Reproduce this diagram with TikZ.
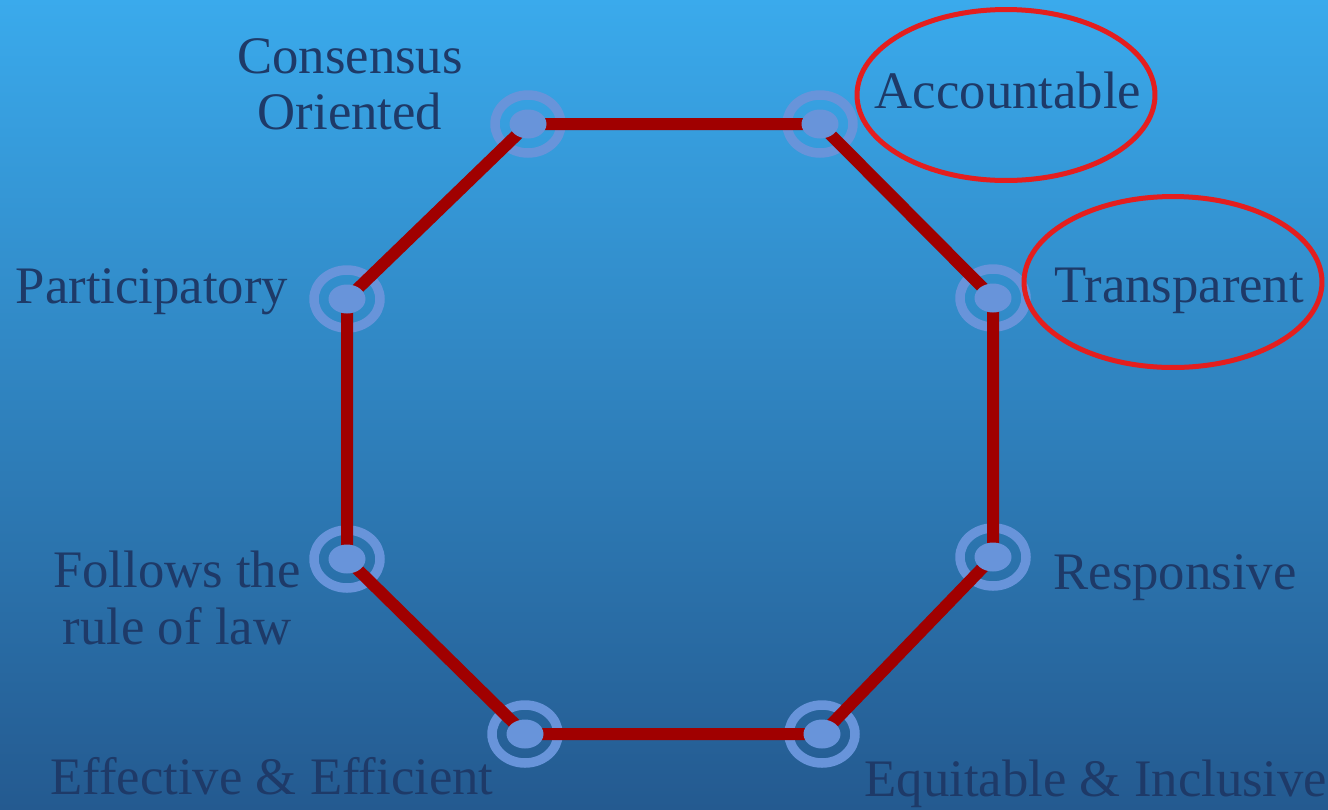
\documentclass[tikz,border=0pt]{standalone}
\usepackage{fontspec}
\setmainfont{Liberation Serif}
\usetikzlibrary{shapes.geometric}
\definecolor{bgtop}{RGB}{58,170,236}
\definecolor{bgbot}{RGB}{36,90,144}
\definecolor{ringblue}{RGB}{104,148,218}
\definecolor{octred}{RGB}{160,0,0}
\definecolor{hired}{RGB}{228,30,30}
\definecolor{txt}{RGB}{30,58,104}
\begin{document}
\begin{tikzpicture}[x=0.02cm,y=-0.02cm,
        ring/.style={ellipse,draw=ringblue,line width=0.19cm,minimum width=1.32cm,minimum height=1.16cm,inner sep=0pt},
        dot/.style={ellipse,fill=ringblue,minimum width=0.74cm,minimum height=0.58cm,inner sep=0pt},
        side/.style={draw=octred,line width=0.24cm},
        lbl/.style={text=txt,font=\fontsize{30}{32}\selectfont,align=center,inner sep=1pt},
        hilite/.style={ellipse,draw=hired,line width=0.1cm,minimum width=5.96cm,minimum height=3.42cm}]
        \useasboundingbox (0,0) rectangle (1328,809);
        \shade[top color=bgtop,bottom color=bgbot] (0,0) rectangle (1328,809);
        % outer rings
        \node[ring] (cons) at (528,124) {};
        \node[ring] (acc) at (820,124) {};
        \node[ring] (trans) at (993,298) {};
        \node[ring] (resp) at (993,557) {};
        \node[ring] (equi) at (822,734) {};
        \node[ring] (eff) at (525,734) {};
        \node[ring] (law) at (347,559) {};
        \node[ring] (part) at (347,299) {};
        \draw[side] (cons.center) -- (acc.center) -- (trans.center) -- (resp.center) -- (equi.center)
            -- (eff.center) -- (law.center) -- (part.center) -- cycle;
        \node[dot] (dcons) at (cons) {};
        \node[dot] (dacc) at (acc) {};
        \node[dot] (dtrans) at (trans) {};
        \node[dot] (dresp) at (resp) {};
        \node[dot] (dequi) at (equi) {};
        \node[dot] (deff) at (eff) {};
        \node[dot] (dlaw) at (law) {};
        \node[dot] (dpart) at (part) {};
        % labels
        \node[lbl] (tcons) at (350,84) {Consensus\\Oriented};
        \node[lbl,anchor=base] (tacc) at (1008,108) {Accountable};
        \node[lbl,anchor=base] (ttrans) at (1179,302) {Transparent};
        \node[lbl,anchor=base] (tpart) at (152,303) {Participatory};
        \node[lbl,anchor=base] (tresp) at (1175,589) {Responsive};
        \node[lbl] (tlaw) at (177,598) {Follows the\\rule of law};
        \node[lbl,anchor=base] (teff) at (272,794) {Effective \& Efficient};
        \node[lbl,anchor=base] (tequi) at (1096,796) {Equitable \& Inclusive};
        \node[hilite] (hacc) at (1006,95) {};
        \node[hilite] (htrans) at (1173,282) {};
\end{tikzpicture}
\end{document}
